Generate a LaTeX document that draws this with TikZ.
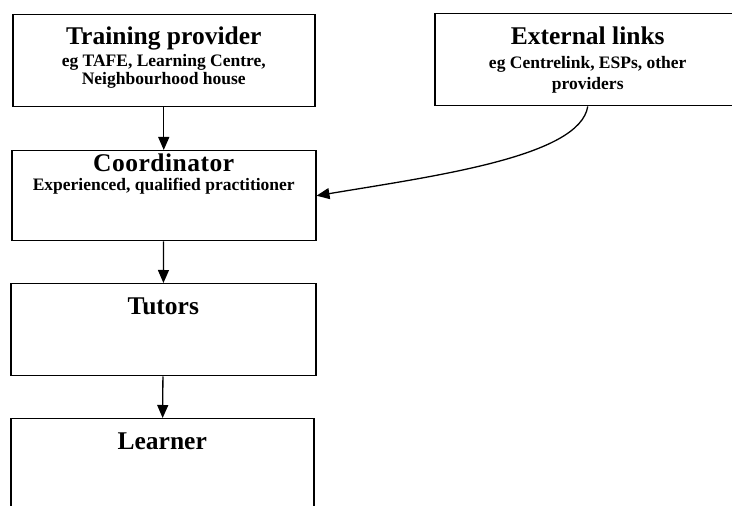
\documentclass[tikz,border=0pt]{standalone}
\usepackage{fontspec}
\setmainfont{Liberation Serif}
\usetikzlibrary{positioning,arrows.meta}

\newcommand{\headfont}{\fontsize{25.5}{28}\selectfont\bfseries}
\newcommand{\notefont}{\fontsize{17.5}{19}\selectfont\bfseries}

\begin{document}
\begin{tikzpicture}[x=1pt,y=1pt,->,>={Triangle[length=13pt,width=11pt]},line width=1.3pt]
\tikzstyle{block} = [rectangle, draw, line width=1.5pt, inner sep=0pt, anchor=north west]
\tikzstyle{head} = [inner sep=0pt, anchor=base, font=\headfont]
\tikzstyle{note} = [inner sep=0pt, anchor=base, font=\notefont]
\clip (0,0) rectangle (732,506);
% boxes
\node[block, minimum width=302pt, minimum height=92pt] (train) at (12,492) {};
\node[block, minimum width=306pt, minimum height=92pt] (ext) at (434,493) {};
\node[block, minimum width=304pt, minimum height=90pt] (coord) at (11,356) {};
\node[block, minimum width=305pt, minimum height=92pt] (tutors) at (10,223) {};
\node[block, minimum width=303pt, minimum height=110pt] (learner) at (10,88) {};
% texts
\node[head, below=31pt of train.north, anchor=base] (train-head) {Training provider};
\node[note, below=53pt of train.north, anchor=base] (train-note1) {eg TAFE, Learning Centre,};
\node[note, below=71pt of train.north, anchor=base] (train-note2) {Neighbourhood house};
\node[head, below=32pt of ext.north, anchor=base] (ext-head) {External links};
\node[note, below=56pt of ext.north, anchor=base] (ext-note1) {eg Centrelink, ESPs, other};
\node[note, below=77pt of ext.north, anchor=base] (ext-note2) {providers};
\node[head, below=22pt of coord.north, anchor=base] (coord-head) {\addfontfeature{LetterSpace=2}Coordinator};
\node[note, below=41pt of coord.north, anchor=base] (coord-note) {Experienced, qualified practitioner};
\node[head, below=32pt of tutors.north, anchor=base] (tutors-head) {Tutors};
\node[head, below=32pt of learner.north, anchor=base] (learner-head) {Learner};
% links
\draw (train) -- (coord);
\draw (coord) -- (tutors);
\draw (tutors) -- (learner);
\draw (ext.south) .. controls +(-8,-50) and +(120,20) .. (coord.east);
\end{tikzpicture}
\end{document}
